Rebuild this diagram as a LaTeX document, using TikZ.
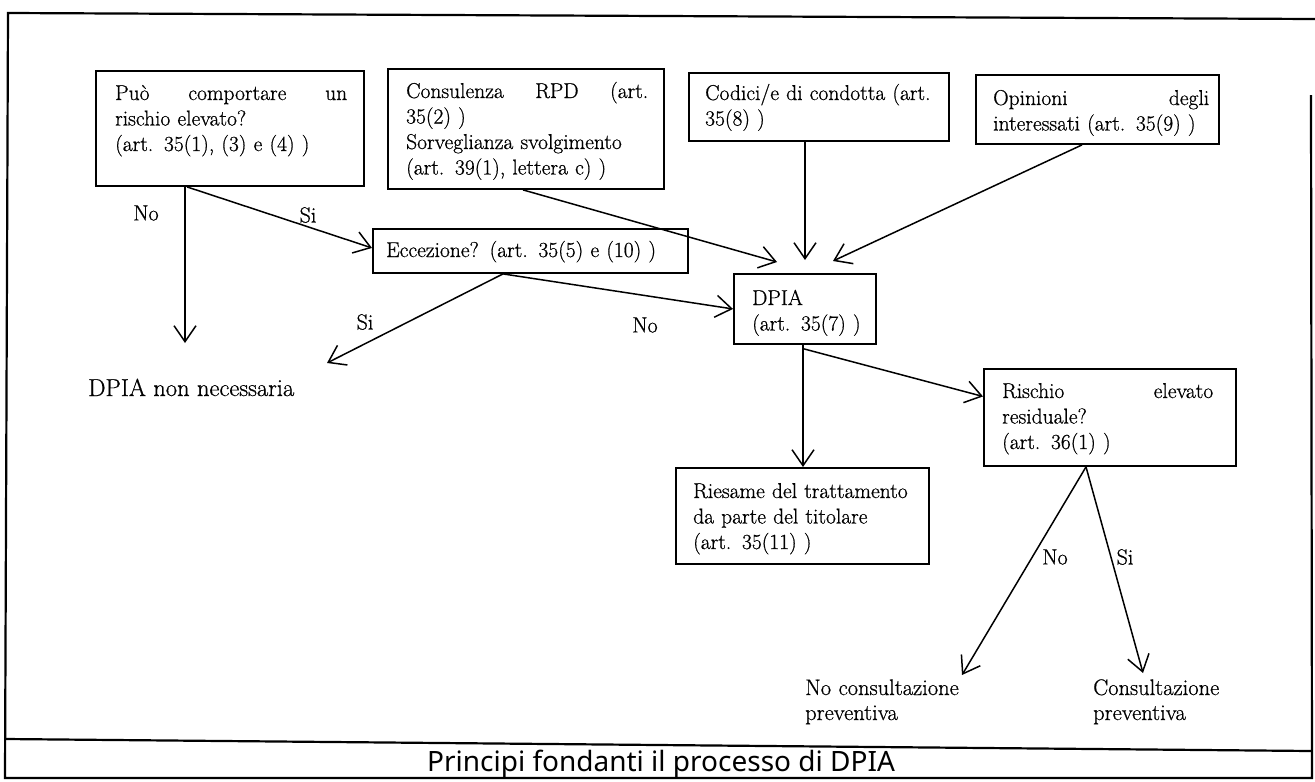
\documentclass[tikz,border=0pt]{standalone}
\usepackage{fontspec}
\newfontfamily\capfont{Noto Sans}
\newfontfamily\txtfont{Latin Modern Roman}[FakeBold=0.7]
\usetikzlibrary{arrows.meta,calc}
\begin{document}
\begin{tikzpicture}[x=1pt,y=-1pt,
  box/.style={draw=black,line width=1.9pt,inner sep=0pt,anchor=north west},
  txt/.style={font=\txtfont\fontsize{21.5}{25.5}\selectfont,inner sep=0pt,align=left,anchor=base west},
  outc/.style={font=\txtfont\fontsize{22.5}{25}\selectfont,inner sep=0pt,align=left,anchor=base west},
  lbl/.style={font=\txtfont\fontsize{22}{25}\selectfont,inner sep=0pt},
  arr/.style={line width=1.5pt,-{Straight Barb[length=16pt,width=22pt,line width=1.5pt]}},
  frame/.style={line width=2.2pt,line join=miter}]
\useasboundingbox (0,0) rectangle (1315,782);
% outer frame
\draw[frame] (1315,19) -- (8,13) -- (5,778) -- (1312,778) -- (1311,95);
\draw[frame] (5,739) -- (1311,751);
\node[font=\capfont\fontsize{28}{32}\selectfont,inner sep=0pt,anchor=base] (cap) at (661,771) {Principi fondanti il processo di DPIA};
% boxes
\node[box,minimum width=268pt,minimum height=115pt] (b1) at (95,70) {};
\node[box,minimum width=276pt,minimum height=120pt] (b2) at (387,68) {};
\node[box,minimum width=260pt,minimum height=68pt] (b3) at (688,72) {};
\node[box,minimum width=243pt,minimum height=69pt] (b4) at (975,74) {};
\node[box,minimum width=315pt,minimum height=44pt] (ecc) at (372,228) {};
\node[box,minimum width=142pt,minimum height=70pt] (dpia) at (733,273) {};
\node[box,minimum width=252pt,minimum height=97pt] (risc) at (983,368) {};
\node[box,minimum width=253pt,minimum height=96pt] (ries) at (675,467) {};
% box texts
\node[txt,text width=232pt] (t1) at (115,100) {Può\hfill comportare\hfill un\\rischio elevato?\\(art. 35(1), (3) e (4) )};
\node[txt,text width=242pt] (t2) at (406,98) {Consulenza\hfill RPD\hfill (art.\\35(2) )\\Sorveglianza svolgimento\\(art. 39(1), lettera c) )};
\node[txt,text width=240pt] (t3) at (705,100) {Codici/e di condotta (art.\\35(8) )};
\node[txt,text width=216pt] (t4) at (993,105) {Opinioni\hfill degli\\interessati (art. 35(9) )};
\node[txt,text width=290pt] (tecc) at (386,257) {Eccezione? (art. 35(5) e (10) )};
\node[txt,text width=115pt] (tdpia) at (752,305) {DPIA\\(art. 35(7) )};
\node[txt,text width=211pt] (trisc) at (1002,398) {Rischio\hfill elevato\\residuale?\\(art. 36(1) )};
\node[txt,text width=232pt] (tries) at (693,498) {Riesame del trattamento\\da parte del titolare\\(art. 35(11) )};
% outcome texts
\node[outc,font=\txtfont\fontsize{24.5}{27}\selectfont] (nn) at (88,396) {DPIA non necessaria};
\node[outc,text width=200pt] (nc) at (805,695) {No consultazione\\preventiva};
\node[outc,text width=170pt] (cp) at (1093,695) {Consultazione\\preventiva};
% labels
\node[lbl] (no1) at (146,213) {No};
\node[lbl] (si1) at (308,215) {Si};
\node[lbl] (si2) at (365,322) {Si};
\node[lbl] (no2) at (645,325) {No};
\node[lbl] (no3) at (1055,557) {No};
\node[lbl] (si3) at (1125,557) {Si};
% connectors
\draw[arr] ($(b1.south west)+(90,0)$) -- ($(nn.base west)+(97,-53)$);
\draw[arr] ($(b1.south west)+(92,0)$) -- ($(ecc.west)+(0,-3)$);
\draw[arr] ($(b2.south west)+(136,0)$) -- ($(dpia.north west)+(44,-11)$);
\draw[arr] ($(b3.south west)+(117,0)$) -- ($(dpia.north west)+(72,-13)$);
\draw[arr] ($(b4.south west)+(107,0)$) -- ($(dpia.north west)+(100,-12)$);
\draw[arr] ($(ecc.south west)+(131,0)$) -- (dpia.west);
\draw[arr] ($(ecc.south west)+(131,0)$) -- ($(nn.base west)+(239,-33)$);
\draw[arr] ($(dpia.south west)+(70,0)$) -- ($(ries.north west)+(128,0)$);
\draw[arr] ($(dpia.south west)+(71,4)$) -- ($(risc.west)+(0,-21)$);
\draw[arr] ($(risc.south west)+(103,0)$) -- ($(nc.base west)+(157,-20)$);
\draw[arr] ($(risc.south west)+(103,0)$) -- ($(cp.base west)+(50,-22)$);
\end{tikzpicture}
\end{document}
